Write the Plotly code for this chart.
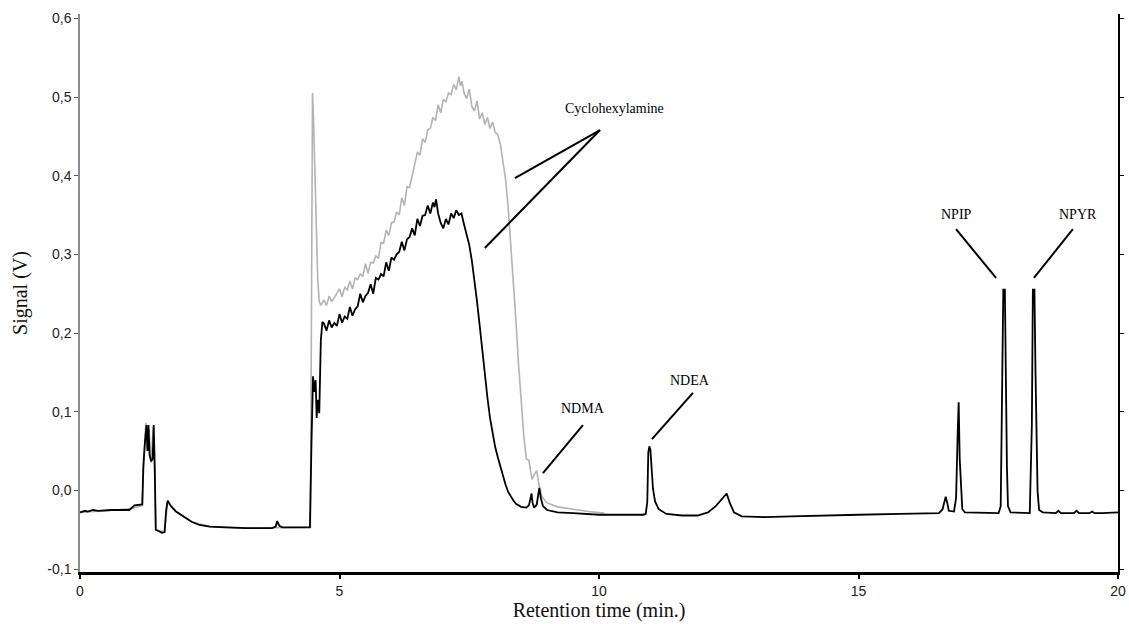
import plotly.graph_objects as go

# ---- data ----
sample_time = [
    0.00, 0.10, 0.15, 0.25, 0.35, 0.60, 0.95, 1.00, 1.05, 1.20, 1.22, 1.25, 1.28, 1.30, 1.32, 1.34,
    1.37, 1.40, 1.42, 1.44, 1.46, 1.52, 1.58, 1.63, 1.66, 1.69, 1.75, 1.85, 2.00, 2.15, 2.30, 2.50,
    2.80, 3.20, 3.70, 3.77, 3.80, 3.84, 3.90, 4.20, 4.43, 4.46, 4.49, 4.52, 4.54, 4.56, 4.58, 4.61,
    4.64, 4.67,
    4.70, 4.75, 4.80, 4.85, 4.90, 4.95, 5.00, 5.05, 5.10, 5.15, 5.20, 5.25, 5.30, 5.35, 5.40, 5.45,
    5.50, 5.55, 5.60, 5.65, 5.70, 5.75, 5.80, 5.85, 5.90, 5.95, 6.00, 6.05, 6.10, 6.15, 6.20, 6.25,
    6.30, 6.35, 6.40, 6.45, 6.50, 6.55, 6.60, 6.65, 6.70, 6.75, 6.80, 6.83, 6.86, 6.90, 6.95, 7.00,
    7.05, 7.10, 7.15, 7.20, 7.25, 7.30, 7.35, 7.40, 7.45, 7.50, 7.55, 7.60, 7.65, 7.70, 7.75, 7.80,
    7.85, 7.90, 7.95, 8.00, 8.05, 8.10, 8.15, 8.20, 8.25, 8.30, 8.35, 8.40, 8.50, 8.60, 8.65, 8.68,
    8.70, 8.72, 8.75, 8.80, 8.83, 8.85, 8.88, 8.92, 9.00, 9.20, 9.50, 9.80, 10.00, 10.50, 10.85,
    10.90, 10.93, 10.95, 10.97, 10.99, 11.01, 11.04, 11.08, 11.15, 11.30, 11.60, 11.90, 12.10, 12.25,
    12.38, 12.46, 12.52, 12.60, 12.75, 13.20, 13.70, 14.20, 15.00, 15.80, 16.55, 16.62, 16.66, 16.68,
    16.71, 16.74, 16.84, 16.88, 16.91, 16.93, 16.95, 16.97, 17.00, 17.05, 17.70, 17.74, 17.77, 17.79,
    17.82, 17.84, 17.86, 17.88, 17.93, 18.30, 18.34, 18.36, 18.39, 18.41, 18.43, 18.45, 18.48, 18.55,
    18.80, 18.85, 18.90, 19.15, 19.20, 19.25, 19.45, 19.50, 19.55, 19.70, 20.00,
]
sample_signal = [
    -0.028, -0.026, -0.027, -0.025, -0.026, -0.025, -0.025, -0.022, -0.019, -0.018, 0.030, 0.060,
    0.083, 0.050, 0.083, 0.045, 0.037, 0.040, 0.083, 0.030, -0.050, -0.052, -0.054, -0.053, -0.025,
    -0.013, -0.020, -0.027, -0.034, -0.040, -0.044, -0.046, -0.047, -0.048, -0.048, -0.046, -0.039,
    -0.045, -0.047, -0.047, -0.047, 0.060, 0.145, 0.125, 0.140, 0.092, 0.115, 0.098, 0.190, 0.214,
    0.212, 0.203, 0.216, 0.207, 0.213, 0.209, 0.224, 0.213, 0.221, 0.218, 0.233, 0.222, 0.230, 0.234,
    0.250, 0.239, 0.247, 0.251, 0.262, 0.250, 0.270, 0.268, 0.275, 0.272, 0.290, 0.279, 0.296, 0.293,
    0.300, 0.303, 0.316, 0.305, 0.319, 0.322, 0.333, 0.324, 0.345, 0.336, 0.349, 0.350, 0.362, 0.352,
    0.366, 0.360, 0.370, 0.352, 0.340, 0.333, 0.345, 0.338, 0.352, 0.346, 0.356, 0.350, 0.352, 0.338,
    0.325, 0.312, 0.292, 0.268, 0.240, 0.210, 0.178, 0.148, 0.118, 0.092, 0.072, 0.055, 0.042, 0.030,
    0.018, 0.007, -0.002, -0.008, -0.013, -0.017, -0.021, -0.022, -0.019, -0.010, -0.004, -0.016,
    -0.022, -0.018, -0.005, 0.003, -0.010, -0.020, -0.025, -0.028, -0.029, -0.030, -0.031, -0.031,
    -0.031,
    -0.030, -0.015, 0.048, 0.056, 0.052, 0.025, 0.002, -0.014, -0.024, -0.030, -0.032, -0.032, -0.028,
    -0.020, -0.010, -0.004, -0.016, -0.028, -0.033, -0.034, -0.033, -0.032, -0.031, -0.030, -0.029,
    -0.024, -0.012, -0.008, -0.016, -0.026, -0.027, -0.010, 0.070, 0.112, 0.040, 0.020, -0.024, -0.028,
    -0.029, -0.020, 0.130, 0.255, 0.255, 0.113, 0.030, -0.020, -0.028, -0.029, 0.083, 0.255, 0.255,
    0.152, 0.050, -0.001, -0.025, -0.028, -0.029, -0.026, -0.029, -0.029, -0.026, -0.029, -0.029,
    -0.027, -0.029, -0.029, -0.028,
]

standard_time = [
    0.00, 0.50, 1.00, 1.20, 1.23, 1.27, 1.30, 1.33, 1.37, 1.41, 1.44, 1.46, 1.63, 1.69, 1.85, 2.15,
    2.50, 3.20, 4.44, 4.46, 4.48, 4.50, 4.52, 4.55, 4.58, 4.61, 4.64,
    4.70, 4.75, 4.80, 4.85, 4.90, 4.95, 5.00, 5.05, 5.10, 5.15, 5.20, 5.25, 5.30, 5.35, 5.40, 5.45,
    5.50, 5.55, 5.60, 5.65, 5.70, 5.75, 5.80, 5.85, 5.90, 5.95, 6.00, 6.05, 6.10, 6.15, 6.20, 6.25,
    6.30, 6.35, 6.40, 6.45, 6.50, 6.55, 6.60, 6.65, 6.70, 6.75, 6.80, 6.85, 6.90, 6.95, 7.00, 7.05,
    7.10, 7.15, 7.20, 7.25, 7.30, 7.33, 7.36, 7.40, 7.45, 7.50, 7.55, 7.60, 7.65, 7.70, 7.75, 7.80,
    7.85, 7.90, 7.95, 8.00, 8.05, 8.10, 8.15, 8.20, 8.25, 8.30, 8.35, 8.40, 8.45, 8.50, 8.55, 8.60,
    8.65, 8.68, 8.71, 8.75, 8.80, 8.84, 8.90, 9.00, 9.20, 9.50, 9.80, 10.10,
]
standard_signal = [
    -0.028, -0.026, -0.023, -0.019, 0.040, 0.086, 0.055, 0.078, 0.035, 0.080, 0.020, -0.050, -0.053,
    -0.014, -0.027, -0.040, -0.046, -0.048, -0.047, 0.250, 0.505, 0.470, 0.420, 0.330, 0.270, 0.240,
    0.235,
    0.242, 0.235, 0.247, 0.240, 0.245, 0.250, 0.256, 0.246, 0.258, 0.255,
    0.266, 0.256, 0.270, 0.268, 0.275, 0.272, 0.288, 0.276, 0.290, 0.289,
    0.298, 0.295, 0.315, 0.314, 0.331, 0.324, 0.340, 0.341, 0.354, 0.350,
    0.372, 0.362, 0.386, 0.385, 0.401, 0.416, 0.430, 0.426, 0.447, 0.442,
    0.458, 0.460, 0.474, 0.470, 0.490, 0.480, 0.497, 0.494, 0.505, 0.503,
    0.516, 0.509, 0.526, 0.514, 0.520, 0.505,
    0.498, 0.510, 0.488, 0.482, 0.495, 0.472, 0.480, 0.465, 0.474, 0.460, 0.468, 0.455, 0.452, 0.440,
    0.420, 0.395, 0.360, 0.315, 0.265, 0.215, 0.160, 0.110, 0.070, 0.040, 0.038, 0.025, 0.014, 0.020,
    0.025, 0.008, -0.008, -0.016, -0.021, -0.024, -0.027, -0.029,
]

x_tick_values = [0, 5, 10, 15, 20]
x_tick_labels = ["0", "5", "10", "15", "20"]
y_tick_values = [-0.1, 0.0, 0.1, 0.2, 0.3, 0.4, 0.5, 0.6]
y_tick_labels = ["-0,1", "0,0", "0,1", "0,2", "0,3", "0,4", "0,5", "0,6"]

# annotation labels: (text, text x, text y, line x0, y0, x1, y1)
peak_labels = [
    ("NDMA", 9.69, 0.104, 9.69, 0.083, 8.92, 0.022),
    ("NDEA", 11.75, 0.139, 11.81, 0.124, 11.02, 0.065),
    ("NPIP", 16.88, 0.351, 16.88, 0.332, 17.65, 0.270),
    ("NPYR", 19.23, 0.351, 19.13, 0.332, 18.38, 0.270),
]
cyclo_label = ("Cyclohexylamine", 10.29, 0.486)
cyclo_lines = [(10.02, 0.458, 8.38, 0.397), (10.02, 0.458, 7.80, 0.308)]

SERIF = "Liberation Serif, Times New Roman, serif"
SANS = "Liberation Sans, Arial, sans-serif"

fig = go.Figure()
fig.add_trace(go.Scatter(x=standard_time, y=standard_signal, mode="lines",
                         line=dict(color="#b3b3b3", width=1.6), showlegend=False,
                         hoverinfo="skip"))
fig.add_trace(go.Scatter(x=sample_time, y=sample_signal, mode="lines",
                         line=dict(color="#000000", width=1.8), showlegend=False))
fig.add_trace(go.Scatter(x=[None], y=[None], yaxis="y2", showlegend=False, hoverinfo="skip"))

shapes = []
annotations = []
for text, tx, ty, x0, y0, x1, y1 in peak_labels:
    annotations.append(dict(x=tx, y=ty, text=text, showarrow=False, xref="x", yref="y",
                            font=dict(family=SERIF, size=14, color="black")))
    shapes.append(dict(type="line", xref="x", yref="y", x0=x0, y0=y0, x1=x1, y1=y1,
                       line=dict(color="black", width=2)))
annotations.append(dict(x=cyclo_label[1], y=cyclo_label[2], text=cyclo_label[0], showarrow=False,
                        xref="x", yref="y", font=dict(family=SERIF, size=14, color="black")))
for x0, y0, x1, y1 in cyclo_lines:
    shapes.append(dict(type="line", xref="x", yref="y", x0=x0, y0=y0, x1=x1, y1=y1,
                       line=dict(color="black", width=2)))

fig.update_layout(
    width=1129, height=624,
    margin=dict(l=80, r=11, t=14, b=52, autoexpand=False),
    paper_bgcolor="white", plot_bgcolor="white",
    showlegend=False,
    shapes=shapes, annotations=annotations,
    xaxis=dict(range=[0, 20], tickvals=x_tick_values, ticktext=x_tick_labels, automargin=False,
               showgrid=False, zeroline=False, showline=True, linecolor="black", linewidth=2.5,
               ticks="outside", ticklen=4, tickwidth=1.5, tickcolor="black",
               tickfont=dict(family=SANS, size=14, color="#222"),
               title=dict(text="Retention time (min.)", font=dict(family=SERIF, size=20, color="#111"),
                          standoff=0)),
    yaxis=dict(range=[-0.1038, 0.6055], tickvals=y_tick_values, ticktext=y_tick_labels,
               automargin=False,
               showgrid=False, zeroline=False, showline=True, linecolor="#8c8c8c", linewidth=1.5,
               ticks="outside", ticklen=4, tickwidth=1.2, tickcolor="#555",
               tickfont=dict(family=SANS, size=14, color="#222"),
               title=dict(text="Signal (V)", font=dict(family=SERIF, size=20, color="#111"),
                          standoff=14)),
    yaxis2=dict(overlaying="y", side="right", matches="y", showticklabels=False, automargin=False,
                showgrid=False, zeroline=False, showline=True, linecolor="black", linewidth=1.5,
                ticks="outside", ticklen=4, tickwidth=1.2, tickcolor="black",
                tickvals=y_tick_values),
)

fig.write_html("out.html")
